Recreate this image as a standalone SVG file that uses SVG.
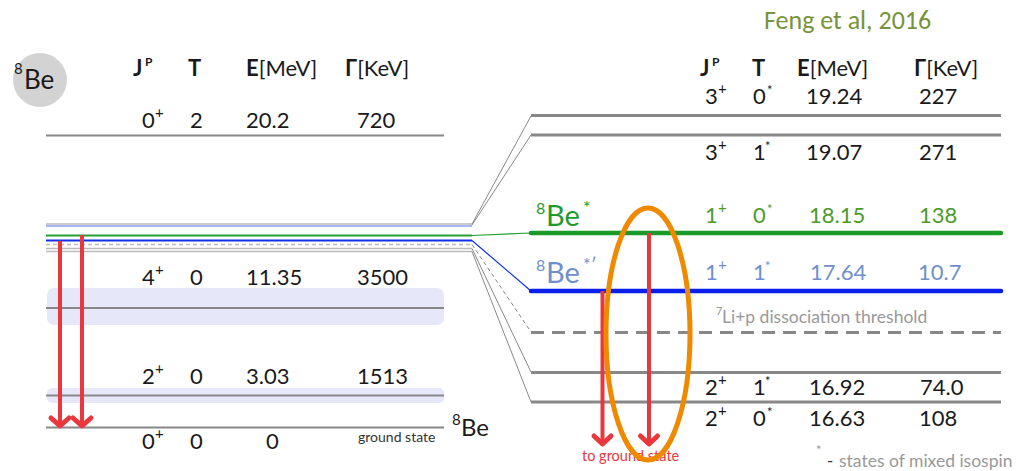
<svg xmlns="http://www.w3.org/2000/svg" width="1019" height="471" viewBox="0 0 1019 471">
<style>
.t{font-family:Lato,"Open Sans","Liberation Sans",sans-serif;font-size:22px;fill:#1a1a1a}
.b{font-weight:700}
.sup{font-size:15px}
.ss{font-size:13px}
.g{fill:#4c9a2a}
.bl{fill:#6f8fcc}
.lvl{stroke:#888;stroke-width:3;fill:none}
.ll{stroke:#888;stroke-width:2;fill:none}
.cl{stroke:#bbb;stroke-width:1.5;fill:none}
.con{stroke:#888;stroke-width:1;fill:none}
.arr{stroke:#e8383d;stroke-width:4;fill:none}
.head{stroke:#e8383d;stroke-width:5;fill:none;stroke-linecap:round;stroke-linejoin:round}
.band{fill:#e6e8fa}
</style>
<rect width="1019" height="471" fill="#fff"/>

<text class="t" x="764" y="29" style="font-family:Carlito,Lato,'Open Sans',sans-serif;font-size:26px;fill:#77933c">Feng et al, 2016</text>

<g id="be8-badge">
<circle cx="40" cy="80" r="27" fill="#d3d3d3"/>
<text class="t sup" x="14" y="74">8</text>
<text class="t" x="24" y="89" style="font-size:26px">Be</text>
</g>

<g id="left-header">
<text class="t b" x="133" y="76">J</text><text class="t" x="145" y="66" style="font-size:12px;font-weight:700">P</text>
<text class="t b" x="188" y="76">T</text>
<text class="t" x="246" y="76"><tspan font-weight="700">E</tspan>[MeV]</text>
<text class="t" x="345" y="76"><tspan font-weight="700">Γ</tspan>[KeV]</text>
</g>

<g id="right-header">
<text class="t b" x="700" y="76">J</text><text class="t" x="712" y="66" style="font-size:12px;font-weight:700">P</text>
<text class="t b" x="752" y="76">T</text>
<text class="t" x="797" y="76"><tspan font-weight="700">E</tspan>[MeV]</text>
<text class="t" x="914" y="76"><tspan font-weight="700">Γ</tspan>[KeV]</text>
</g>

<g id="left-bands">
<rect class="band" x="47" y="288" width="397" height="37" rx="7"/>
<rect class="band" x="47" y="388" width="397" height="15" rx="5"/>
</g>

<g id="left-level-20.2">
<line class="ll" x1="46" y1="135.5" x2="444" y2="135.5"/>
<text class="t" x="142" y="128">0</text><text class="t sup" x="155" y="118">+</text>
<text class="t" x="190" y="128">2</text>
<text class="t" x="246" y="128">20.2</text>
<text class="t" x="357" y="128">720</text>
</g>

<g id="left-cluster">
<line class="cl" x1="46" y1="224" x2="472" y2="224"/>
<line x1="46" y1="226" x2="472" y2="226" stroke="#8a9cf0" stroke-width="1.5"/>
<line x1="46" y1="235.5" x2="472" y2="235.5" stroke="#22a030" stroke-width="2"/>
<line x1="46" y1="240.5" x2="472" y2="240.5" stroke="#1030e8" stroke-width="2"/>
<line class="cl" x1="46" y1="244.5" x2="472" y2="244.5" stroke-dasharray="4 3"/>
<line class="cl" x1="46" y1="248.5" x2="472" y2="248.5"/>
<line class="cl" x1="46" y1="251.5" x2="472" y2="251.5"/>
</g>

<g id="left-level-11.35">
<line class="ll" x1="46" y1="308" x2="444" y2="308"/>
<text class="t" x="142" y="285">4</text><text class="t sup" x="155" y="275">+</text>
<text class="t" x="190" y="285">0</text>
<text class="t" x="246" y="285">11.35</text>
<text class="t" x="357" y="285">3500</text>
</g>

<g id="left-level-3.03">
<line class="ll" x1="46" y1="395.5" x2="444" y2="395.5"/>
<text class="t" x="142" y="384">2</text><text class="t sup" x="155" y="374">+</text>
<text class="t" x="190" y="384">0</text>
<text class="t" x="246" y="384">3.03</text>
<text class="t" x="357" y="384">1513</text>
</g>

<g id="left-ground">
<line class="ll" x1="46" y1="427.5" x2="444" y2="427.5"/>
<text class="t" x="142" y="449">0</text><text class="t sup" x="155" y="439">+</text>
<text class="t" x="190" y="449">0</text>
<text class="t" x="266" y="449">0</text>
<text class="t" x="358" y="442" style="font-size:14px;fill:#333">ground state</text>
<text class="t sup" x="452" y="425">8</text>
<text class="t" x="461" y="436" style="font-size:24px">Be</text>
</g>

<g id="connectors">
<line class="con" x1="472" y1="224" x2="531" y2="116"/>
<line class="con" x1="472" y1="225" x2="531" y2="135"/>
<line x1="472" y1="235.5" x2="531" y2="233" stroke="#22a030" stroke-width="1.2"/>
<line x1="472" y1="240.5" x2="531" y2="291" stroke="#1030e8" stroke-width="1.2"/>
<line class="con" x1="472" y1="244.5" x2="531" y2="332" stroke-dasharray="4 3"/>
<line class="con" x1="472" y1="248.5" x2="531" y2="372"/>
<line class="con" x1="472" y1="251.5" x2="531" y2="402"/>
</g>

<g id="right-level-19.24">
<line class="lvl" x1="531" y1="115.5" x2="1001" y2="115.5"/>
<text class="t" x="705" y="104">3</text><text class="t sup" x="718" y="94">+</text>
<text class="t" x="753" y="104">0</text><text class="t ss" x="767" y="95">*</text>
<text class="t" x="806" y="104">19.24</text>
<text class="t" x="919" y="104">227</text>
</g>

<g id="right-level-19.07">
<line class="lvl" x1="531" y1="135" x2="1001" y2="135"/>
<text class="t" x="705" y="160">3</text><text class="t sup" x="718" y="150">+</text>
<text class="t" x="753" y="160">1</text><text class="t ss" x="765" y="151">*</text>
<text class="t" x="806" y="160">19.07</text>
<text class="t" x="919" y="160">271</text>
</g>

<g id="right-level-18.15">
<line x1="531" y1="233" x2="1001" y2="233" stroke="#1a9a28" stroke-width="4.5" stroke-linecap="round"/>
<text class="t" x="536" y="214" style="font-size:16px;fill:#1f9a2f">8</text>
<text class="t" x="546" y="226" style="font-size:29px;fill:#1f9a2f">Be</text>
<text class="t" x="583" y="214" style="font-size:18px;fill:#1f9a2f">*</text>
<text class="t g" x="705" y="223">1</text><text class="t sup g" x="718" y="213">+</text>
<text class="t g" x="753" y="223">0</text><text class="t ss g" x="767" y="214">*</text>
<text class="t g" x="809" y="223">18.15</text>
<text class="t g" x="919" y="223">138</text>
</g>

<g id="right-level-17.64">
<line x1="531" y1="291" x2="1001" y2="291" stroke="#0a20ea" stroke-width="4.5" stroke-linecap="round"/>
<text class="t bl" x="536" y="271" style="font-size:16px">8</text>
<text class="t bl" x="546" y="283" style="font-size:29px">Be</text>
<text class="t bl" x="583" y="271" style="font-size:18px">*′</text>
<text class="t bl" x="705" y="280">1</text><text class="t sup bl" x="718" y="270">+</text>
<text class="t bl" x="753" y="280">1</text><text class="t ss bl" x="765" y="271">*</text>
<text class="t bl" x="810" y="280">17.64</text>
<text class="t bl" x="918" y="280">10.7</text>
</g>

<g id="threshold">
<line x1="531" y1="332.5" x2="1001" y2="332.5" stroke="#888" stroke-width="3" stroke-dasharray="13 8"/>
<text class="t" x="716" y="315" style="font-size:11px;fill:#999">7</text>
<text class="t" x="722" y="323" style="font-size:17.5px;fill:#999">Li+p dissociation threshold</text>
</g>

<g id="right-level-16.92">
<line class="lvl" x1="531" y1="372.5" x2="1001" y2="372.5"/>
<text class="t" x="705" y="395">2</text><text class="t sup" x="718" y="385">+</text>
<text class="t" x="753" y="395">1</text><text class="t ss" x="765" y="386">*</text>
<text class="t" x="809" y="395">16.92</text>
<text class="t" x="920" y="395">74.0</text>
</g>

<g id="right-level-16.63">
<line class="lvl" x1="531" y1="402" x2="1001" y2="402"/>
<text class="t" x="705" y="426">2</text><text class="t sup" x="718" y="416">+</text>
<text class="t" x="753" y="426">0</text><text class="t ss" x="767" y="417">*</text>
<text class="t" x="809" y="426">16.63</text>
<text class="t" x="919" y="426">108</text>
</g>

<g id="left-arrows">
<line class="arr" x1="60" y1="241" x2="60" y2="425"/>
<polyline class="head" points="51,418 60,426 69,418"/>
<line class="arr" x1="82" y1="235" x2="82" y2="425"/>
<polyline class="head" points="73,418 82,426 91,418"/>
</g>

<g id="right-arrows">
<line class="arr" x1="602.5" y1="291" x2="602.5" y2="443"/>
<polyline class="head" points="594,436 602.5,444 611,436"/>
<line class="arr" x1="649" y1="233" x2="649" y2="443"/>
<polyline class="head" points="640.5,436 649,444 657.5,436"/>
<text class="t" x="582" y="461" style="font-size:14.5px;fill:#e8383d">to ground state</text>
</g>

<g id="highlight">
<ellipse cx="648" cy="334" rx="42" ry="126" fill="none" stroke="#ef8a00" stroke-width="5"/>
</g>

<g id="footnote">
<text class="t" x="816" y="455" style="font-size:13px;fill:#999">*</text>
<text class="t" x="827" y="467" style="font-size:17px;fill:#333">-</text>
<text class="t" x="839" y="467" style="font-size:17.5px;fill:#999">states of mixed isospin</text>
</g>
</svg>
